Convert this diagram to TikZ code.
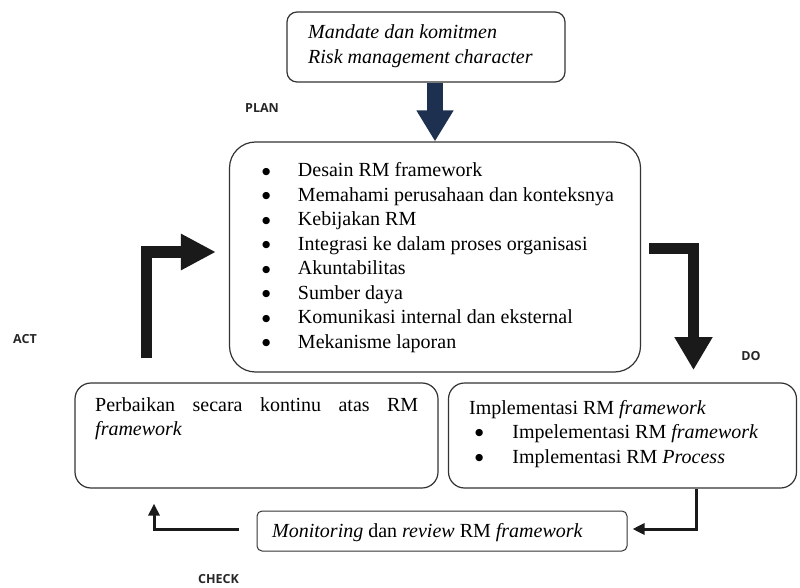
\documentclass[tikz,border=0pt]{standalone}
\usepackage{fontspec}
\setmainfont{Liberation Serif}
\newfontfamily\lblfont{Open Sans}
\newfontfamily\symfont{DejaVu Sans}
\usetikzlibrary{arrows.meta}
\definecolor{boxline}{HTML}{333333}
\definecolor{navy}{HTML}{1E3050}
\definecolor{arrowblack}{HTML}{1A1A1A}
\newcommand{\bigbul}{\raisebox{2.6pt}{\symfont\fontsize{9.5}{9.5}\selectfont ●}}
\tikzset{
  rbox/.style={draw=boxline, line width=1.2pt, minimum width=#1, inner sep=0pt},
  txt/.style={inner sep=0pt, font=\fontsize{20}{24.5}\selectfont, anchor=base west},
  lbl/.style={inner sep=0pt, font=\lblfont\bfseries\fontsize{12.5}{12.5}\selectfont, text=black!85},
  bigarrow/.style={draw=arrowblack, line join=miter},
  thinarrow/.style={draw=arrowblack, line width=3pt, line join=miter, -{Triangle[length=12pt,width=11pt]}}
}
\begin{document}
\begin{tikzpicture}[x=1pt,y=-1pt]
\useasboundingbox (0,0) rectangle (800,588);

% boxes
\node[rbox=278pt, minimum height=70pt, rounded corners=10pt] (top) at (426,47) {};
\node[rbox=411pt, minimum height=230pt, rounded corners=26pt] (plan) at (435,257) {};
\node[rbox=363pt, minimum height=105pt, rounded corners=16pt] (act) at (256.5,435.5) {};
\node[rbox=348pt, minimum height=105pt, rounded corners=16pt] (do) at (622.5,435.5) {};
\node[rbox=370pt, minimum height=40pt, rounded corners=5pt, line width=1pt] (check) at (442,531) {};

% texts
\node[txt, font=\fontsize{20}{25}\selectfont\itshape] (toptxt) at (308,39)
  {\begin{tabular}[t]{@{}l@{}}Mandate dan komitmen\\ Risk management character\end{tabular}};

\node[txt] (plantxt) at (262,177)
  {\begin{tabular}[t]{@{}l@{\hspace{27.5pt}}l@{}}
  \bigbul & Desain RM framework\\
  \bigbul & Memahami perusahaan dan konteksnya\\
  \bigbul & Kebijakan RM\\
  \bigbul & Integrasi ke dalam proses organisasi\\
  \bigbul & Akuntabilitas\\
  \bigbul & Sumber daya\\
  \bigbul & Komunikasi internal dan eksternal\\
  \bigbul & Mekanisme laporan
  \end{tabular}};

\node[txt] (acttxt) at (95,411)
  {\begin{tabular}[t]{@{}l@{}}\hbox to 323pt{Perbaikan\hfill secara\hfill kontinu\hfill atas\hfill RM}\\ \textit{framework}\end{tabular}};

\node[txt] (dotxt) at (469,414)
  {\begin{tabular}[t]{@{}l@{}}Implementasi RM \textit{framework}\\
  \hspace{6pt}\bigbul\hspace{29pt}Impelementasi RM \textit{framework}\\
  \hspace{6pt}\bigbul\hspace{29pt}Implementasi RM \textit{Process}\end{tabular}};

\node[txt] (checktxt) at (272,537) {\textit{Monitoring} dan \textit{review} RM \textit{framework}};

% labels
\node[lbl] (plbl) at (262,108) {PLAN};
\node[lbl] (albl) at (25,339) {ACT};
\node[lbl] (dlbl) at (751,356) {DO};
\node[lbl] (clbl) at (218.5,579.5) {CHECK};

% big arrows
\draw[bigarrow, draw=navy, line width=16pt, -{Triangle[length=31pt,width=35pt]}] (plan.north |- top.south) -- (plan.north);

\coordinate (actstart) at (146.5,358);
\coordinate (actbend) at (146.5,252);
\draw[bigarrow, line width=11.5pt, -{Triangle[length=35pt,width=34pt]}] (actstart) -- (actbend) -- ([xshift=-13pt]actbend -| plan.west);

\coordinate (dostart) at (649,248);
\coordinate (dobend) at (693.5,248);
\coordinate (doend) at (693.5,370);
\draw[bigarrow, line width=11pt, -{Triangle[length=33pt,width=36pt]}] (dostart) -- (dobend) -- (doend);

% small arrows
\coordinate (ckb) at (696,529);
\draw[thinarrow] (do.south -| ckb) -- (ckb) -- ([xshift=5pt]ckb -| check.east);

\coordinate (aks) at (239,529);
\coordinate (akb) at (154,529);
\draw[thinarrow] (aks) -- (akb) -- ([yshift=-15pt]akb |- act.south);
\end{tikzpicture}
\end{document}
